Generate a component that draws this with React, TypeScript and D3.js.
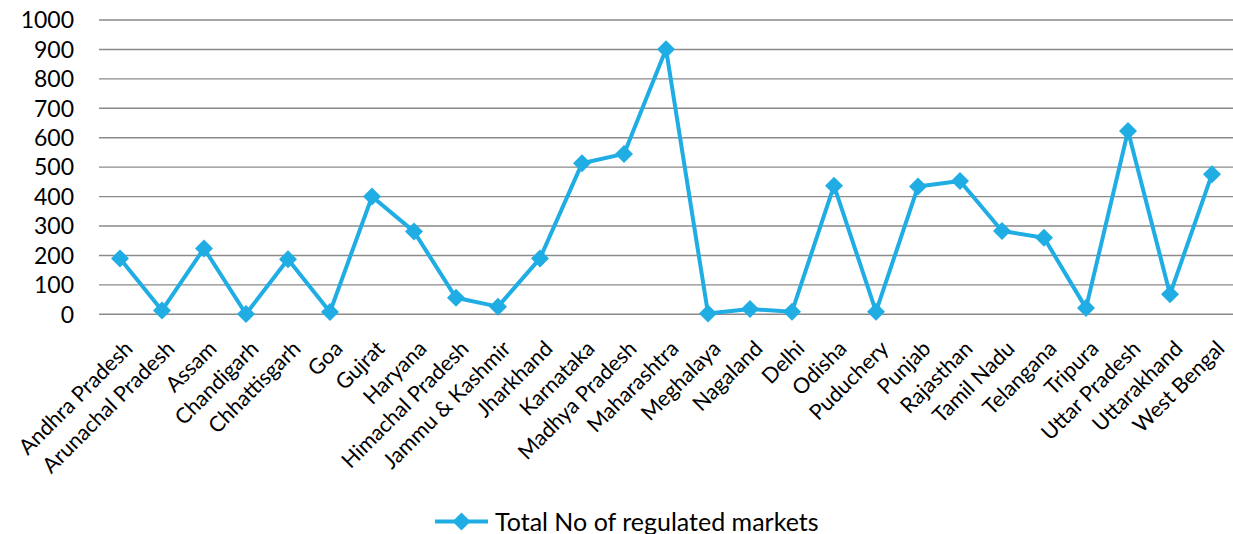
import React from "react";
import * as d3 from "d3";

const categories = [
  "Andhra Pradesh", "Arunachal Pradesh", "Assam", "Chandigarh", "Chhattisgarh", "Goa", "Gujrat",
  "Haryana", "Himachal Pradesh", "Jammu & Kashmir", "Jharkhand", "Karnataka", "Madhya Pradesh",
  "Maharashtra", "Meghalaya", "Nagaland", "Delhi", "Odisha", "Puduchery", "Punjab", "Rajasthan",
  "Tamil Nadu", "Telangana", "Tripura", "Uttar Pradesh", "Uttarakhand", "West Bengal",
];
const values = [
  190, 13, 224, 1, 187, 8, 400, 281, 56, 26, 190, 513, 545, 901, 3, 18, 9, 437, 9, 434, 453,
  283, 260, 21, 623, 68, 476,
];
const yTicks = [0, 100, 200, 300, 400, 500, 600, 700, 800, 900, 1000];
const seriesName = "Total No of regulated markets";

const W = 1233, H = 534;
const left = 99, right = 1233, top = 20, bottom = 314.3;
const color = "#1FADE4";
const font = "Lato, 'Open Sans', sans-serif";

export default function App() {
  const x = d3.scaleBand<string>().domain(categories).range([left, right]);
  const y = d3.scaleLinear().domain([0, 1000]).range([bottom, top]);
  const cx = (c: string) => (x(c) as number) + x.bandwidth() / 2;
  const line = d3.line<number>().x((_, i) => cx(categories[i])).y((d) => y(d));
  const diamond = (px: number, py: number, r: number) =>
    `M${px},${py - r}L${px + r},${py}L${px},${py + r}L${px - r},${py}Z`;
  return (
    <svg width={W} height={H} style={{ position: "absolute", left: 0, top: 0, background: "#fff" }}>
      {yTicks.map((t) => (
        <g key={t}>
          <line x1={left} x2={right} y1={y(t)} y2={y(t)} stroke="#8a8a8a" strokeWidth={1.4} />
          <text x={74} y={y(t)} dy="0.36em" textAnchor="end" fontFamily={font} fontSize={23} fill="#000">
            {t}
          </text>
        </g>
      ))}
      <path d={line(values) || ""} fill="none" stroke={color} strokeWidth={4} strokeLinejoin="round" />
      {values.map((v, i) => (
        <path key={i} d={diamond(cx(categories[i]), y(v), 9)} fill={color} />
      ))}
      {categories.map((c) => (
        <text
          key={c}
          transform={`translate(${cx(c) + 3},${339}) rotate(-45)`}
          textAnchor="end"
          dy="0.72em"
          fontFamily={font}
          fontSize={21.5}
          fill="#000"
        >
          {c}
        </text>
      ))}
      <g>
        <line x1={435} x2={488} y1={521.5} y2={521.5} stroke={color} strokeWidth={4} />
        <path d={diamond(461.5, 521.5, 9)} fill={color} />
        <text x={495} y={521.5} dy="0.36em" fontFamily={font} fontSize={25} fill="#000">
          {seriesName}
        </text>
      </g>
    </svg>
  );
}
